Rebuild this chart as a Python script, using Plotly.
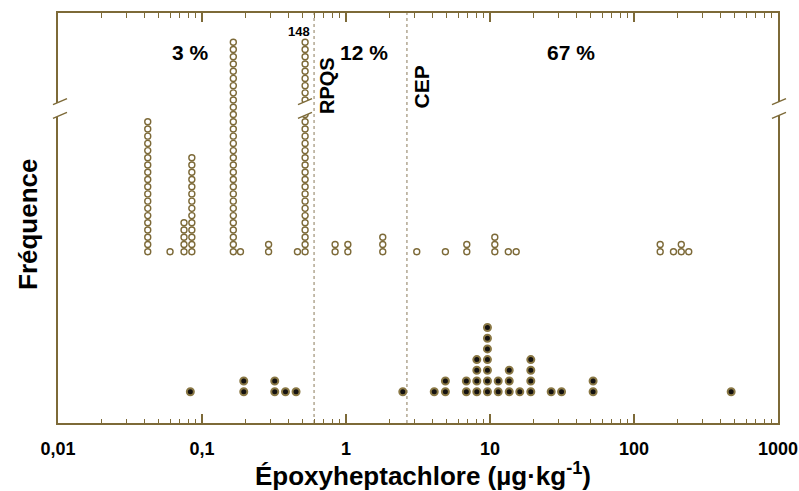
import plotly.graph_objects as go

# ---------------- data ----------------
open_values = [0.042, 0.06, 0.075, 0.085, 0.165, 0.185, 0.29, 0.46, 0.52,
               0.84, 1.03, 1.8, 3.1, 4.9, 6.9, 10.8, 13.4, 15.2,
               152, 188, 213, 240]
open_counts = [19, 1, 5, 14, 30, 1, 2, 1, 30,
               2, 2, 3, 1, 1, 2, 3, 1, 1,
               2, 1, 2, 1]

black_values = [0.083, 0.195, 0.32, 0.38, 0.45, 2.48, 4.1, 4.9, 6.85, 8.1,
                9.6, 11.4, 13.6, 16.1, 19.2, 26.6, 31.4, 52, 473]
black_counts = [1, 2, 2, 1, 1, 1, 1, 2, 2, 4,
                7, 2, 3, 1, 4, 1, 1, 2, 1]

threshold_names = ["RPQS", "CEP"]
threshold_values = [0.6, 2.65]

pct_labels = ["3 %", "12 %", "67 %"]
broken_column_label = "148"

tick_vals = [0.01, 0.1, 1, 10, 100, 1000]
tick_text = ["0,01", "0,1", "1", "10", "100", "1000"]

x_title = "Époxyheptachlore (µg·kg<sup>-1</sup>)"
y_title = "Fréquence"

# ---------------- style ----------------
W, H = 799, 491
ML, MR, MT, MB = 58, 21, 13, 68
PW, PH = W - ML - MR, H - MT - MB
AX = "#7d6a38"
DOT_RING = "#8a7845"
FONT = "Liberation Sans, Arial, sans-serif"


def px2paper(px, py):
    return (px - ML) / PW, (MT + PH - py) / PH


def stack(values, counts):
    xs, ys = [], []
    for v, n in zip(values, counts):
        for k in range(1, n + 1):
            xs.append(v)
            ys.append(k)
    return xs, ys


ox, oy = stack(open_values, open_counts)
bx, by = stack(black_values, black_counts)

fig = go.Figure()
fig.add_trace(go.Scatter(
    x=ox, y=oy, mode="markers", yaxis="y2", showlegend=False,
    marker=dict(size=6, color="rgba(0,0,0,0)", line=dict(color=AX, width=1.4)),
    hoverinfo="skip"))
fig.add_trace(go.Scatter(
    x=bx, y=by, mode="markers", showlegend=False,
    marker=dict(size=7, color="#141210", line=dict(color=DOT_RING, width=2)),
    hoverinfo="skip"))

shapes = []
for v in threshold_values:
    shapes.append(dict(type="line", xref="x", yref="paper", x0=v, x1=v, y0=0, y1=1,
                       line=dict(color="#8a7a5a", width=1, dash="dot"), layer="below"))


def add_break(xc, yc):
    # white parallelogram + two slanted strokes (pixel coords)
    hw, dy, gap = 7, 6, 6.9
    p = [px2paper(xc - hw, yc - gap + dy / 2), px2paper(xc + hw, yc - gap - dy / 2),
         px2paper(xc + hw, yc + gap - dy / 2), px2paper(xc - hw, yc + gap + dy / 2)]
    path = "M {} {} L {} {} L {} {} L {} {} Z".format(*[c for pt in p for c in pt])
    shapes.append(dict(type="path", xref="paper", yref="paper", path=path,
                       fillcolor="white", line=dict(width=0), layer="above"))
    for s in (-1, 1):
        a = px2paper(xc - hw, yc + s * gap + dy / 2)
        b = px2paper(xc + hw, yc + s * gap - dy / 2)
        shapes.append(dict(type="line", xref="paper", yref="paper",
                           x0=a[0], y0=a[1], x1=b[0], y1=b[1],
                           line=dict(color=AX, width=1.5), layer="above"))


add_break(60, 108.5)
add_break(779, 108.5)
add_break(305, 108.5)

annotations = []


def ann(text, px, py, size, angle=0):
    xp, yp = px2paper(px, py)
    annotations.append(dict(text=text, x=xp, y=yp, xref="paper", yref="paper",
                            showarrow=False, textangle=angle,
                            font=dict(family=FONT, size=size, color="black", weight="bold"),
                            xanchor="center", yanchor="middle"))


for t, px in zip(pct_labels, [190, 363.5, 571]):
    ann(t, px, 53, 21)
ann(broken_column_label, 298.7, 31.5, 13)
ann(threshold_names[0], 327, 86, 20, -90)
ann(threshold_names[1], 420.5, 87, 21, -90)
ann(x_title, 423, 474, 26)
ann(y_title, 28, 224, 26, -90)

minor_vals = [m * 10.0 ** e for e in range(-2, 3) for m in range(2, 10)]

fig.update_layout(
    width=W, height=H, margin=dict(l=ML, r=MR, t=MT, b=MB, autoexpand=False),
    paper_bgcolor="white", plot_bgcolor="white",
    shapes=shapes, annotations=annotations,
    xaxis=dict(type="log", range=[-2, 3], tickvals=tick_vals, ticktext=tick_text,
               ticks="inside", ticklen=9, tickwidth=1.5, tickcolor=AX,
               showline=True, linecolor=AX, linewidth=2, mirror="ticks",
               showgrid=False, zeroline=False, ticklabelstandoff=8,
               tickfont=dict(family=FONT, size=18, color="black", weight="bold"),
               minor=dict(tickvals=minor_vals, ticks="inside", ticklen=4.5,
                          tickwidth=1.2, tickcolor=AX, showgrid=False)),
    yaxis=dict(range=[-1.925, 36.39], showline=True, linecolor=AX, linewidth=2,
               mirror=True, ticks="", showticklabels=False, showgrid=False,
               zeroline=False),
    yaxis2=dict(range=[-22.73, 34.06], overlaying="y", visible=False),
)

fig.write_html("out.html", config={"displayModeBar": False},
               post_script="document.body.style.margin='0';document.body.style.padding='0';"
                           "document.documentElement.style.overflow='hidden';")
